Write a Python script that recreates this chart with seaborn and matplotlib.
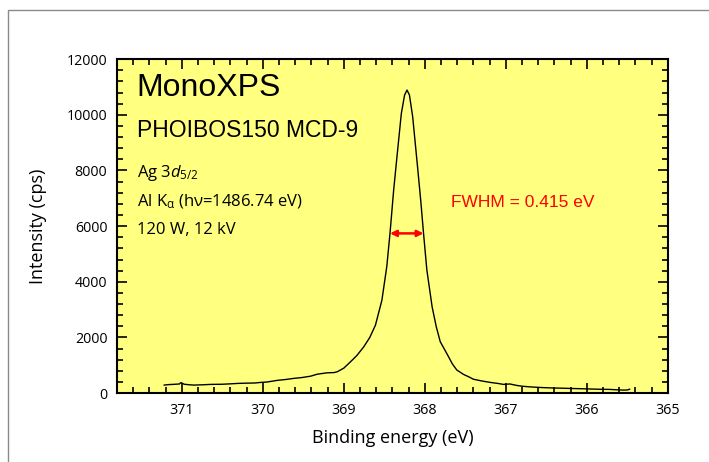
import numpy as np
import pandas as pd
import matplotlib
matplotlib.use("Agg")
import matplotlib.pyplot as plt
from matplotlib.patches import Rectangle
from matplotlib.ticker import MultipleLocator
import seaborn as sns

# ------------------------------------------------------------
# Data (Ag 3d5/2 spectrum)
# ------------------------------------------------------------
binding_energy = [
    371.22, 371.15, 371.08, 371.03, 371.01, 370.97, 370.90, 370.85, 370.75, 370.64,
    370.50, 370.40, 370.31, 370.20, 370.10, 370.03, 369.95, 369.82, 369.72, 369.62,
    369.52, 369.41, 369.33, 369.21, 369.12, 369.08, 369.00, 368.92, 368.84, 368.755,
    368.68, 368.61, 368.53, 368.47, 368.43, 368.385, 368.34, 368.29, 368.25, 368.22,
    368.19, 368.15, 368.09, 368.05, 368.016, 367.975, 367.91, 367.86, 367.81, 367.73,
    367.66, 367.605, 367.52, 367.46, 367.40, 367.30, 367.19, 367.10, 367.03, 366.95,
    366.87, 366.80, 366.70, 366.58, 366.46, 366.33, 366.21, 366.08, 365.96, 365.84,
    365.72, 365.62, 365.55, 365.50, 365.47,
]
intensity = [
    290, 310, 320, 330, 380, 320, 300, 290, 300, 315,
    320, 335, 350, 360, 365, 385, 400, 460, 490, 530,
    560, 610, 680, 730, 740, 770, 900, 1120, 1350, 1660,
    2000, 2440, 3340, 4540, 5740, 7290, 8610, 10050, 10710, 10890,
    10710, 9930, 8130, 6900, 5740, 4420, 3100, 2400, 1850, 1430,
    1050, 830, 670, 590, 500, 440, 385, 350, 315, 330,
    280, 250, 225, 205, 190, 180, 170, 160, 150, 140,
    135, 120, 110, 115, 145,
]

df = pd.DataFrame({"BindingEnergy": binding_energy, "Intensity": intensity})

fwhm_left = 368.43
fwhm_right = 368.016
half_max = 5740

# ------------------------------------------------------------
# Plot
# ------------------------------------------------------------
sns.set_style("ticks")
plt.rcParams["font.family"] = ["Open Sans", "DejaVu Sans"]
plt.rcParams["text.color"] = "black"
plt.rcParams["axes.labelcolor"] = "black"
plt.rcParams["mathtext.fontset"] = "custom"
plt.rcParams["mathtext.rm"] = "Open Sans"
plt.rcParams["mathtext.it"] = "Open Sans:italic"

fig = plt.figure(figsize=(7.09, 4.62), dpi=100)
ax = fig.add_axes([0.165, 0.149, 0.777, 0.723])

# grey frame around the figure
fig.patches.append(Rectangle((8 / 709, -0.1), 1.2, 0.978 + 0.1, transform=fig.transFigure,
                             fill=False, edgecolor="#8a8a8a", linewidth=1.0))

ax.set_facecolor("#ffff80")
sns.lineplot(data=df, x="BindingEnergy", y="Intensity", color="black", linewidth=1.0, ax=ax)

ax.set_xlim(371.8, 365)
ax.set_ylim(0, 12000)
ax.xaxis.set_major_locator(MultipleLocator(1))
ax.xaxis.set_minor_locator(MultipleLocator(0.2))
ax.yaxis.set_major_locator(MultipleLocator(2000))
ax.yaxis.set_minor_locator(MultipleLocator(400))
ax.tick_params(which="both", direction="in", top=True, right=True, labelsize=10.3, width=1.2, colors="black")
ax.tick_params(which="major", length=7, pad=7)
ax.tick_params(which="minor", length=4)
for sp in ax.spines.values():
    sp.set_linewidth(1.5)
    sp.set_color("black")

ax.set_xlabel("Binding energy (eV)", fontsize=13, labelpad=8)
ax.set_ylabel("Intensity (cps)", fontsize=13, labelpad=14)

# annotations
ax.text(0.036, 0.913, "MonoXPS", transform=ax.transAxes, fontsize=23, family="Liberation Sans",
        va="center", ha="left")
ax.text(0.036, 0.787, "PHOIBOS150 MCD-9", transform=ax.transAxes, fontsize=16.5, family="Liberation Sans",
        va="center", ha="left")
ax.text(0.036, 0.659, "Ag 3$\\mathit{d}_{5/2}$", transform=ax.transAxes, fontsize=12, va="center", ha="left")
ax.text(0.036, 0.572, "Al K$_{\\mathrm{α}}$ (hν=1486.74 eV)", transform=ax.transAxes, fontsize=12,
        va="center", ha="left")
ax.text(0.036, 0.488, "120 W, 12 kV", transform=ax.transAxes, fontsize=12, va="center", ha="left")

ax.annotate("", xy=(fwhm_right, half_max), xytext=(fwhm_left, half_max),
            arrowprops=dict(arrowstyle="<|-|>", color="red", lw=1.8, mutation_scale=9,
                            shrinkA=0, shrinkB=0))
ax.text(0.606, 0.57, "FWHM = 0.415 eV", transform=ax.transAxes, fontsize=12.5, color="red",
        family="Liberation Sans", va="center", ha="left")

fig.savefig("out.png", dpi=100)
plt.close(fig)
